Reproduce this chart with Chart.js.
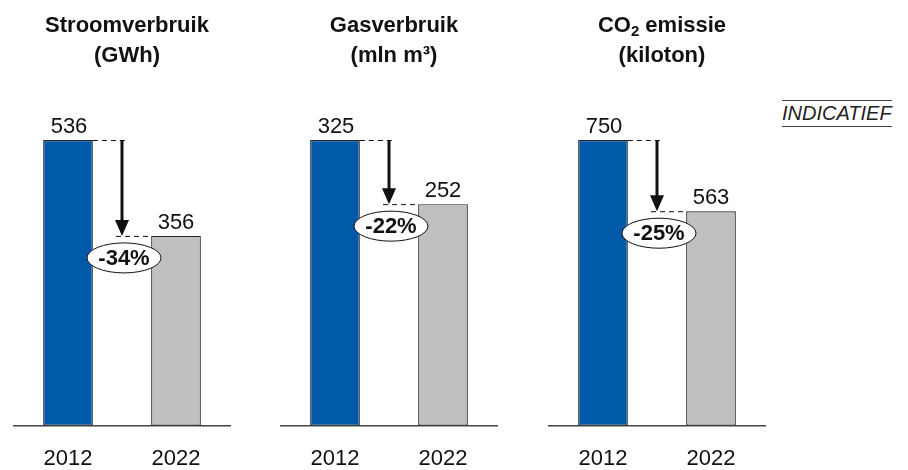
<!DOCTYPE html>
<html>
<head>
<meta charset="utf-8">
<script src="https://cdn.jsdelivr.net/npm/chart.js@4.4.0/dist/chart.umd.min.js"></script>
<style>
    html, body { margin: 0; padding: 0; background: #fff; }
    #wrap { position: relative; width: 908px; height: 470px; overflow: hidden; }
    #wrap canvas { position: absolute; top: 0; }
    #tag {
        position: absolute; left: 782px; top: 100px;
        font: italic 20px 'Liberation Sans', Arial, sans-serif;
        line-height: 25px; color: #222;
        border-top: 1px solid #444; border-bottom: 1px solid #444;
        white-space: nowrap;
    }
</style>
</head>
<body>
<div id="wrap">
    <canvas id="c1" width="244" height="492" style="left:0px"></canvas>
    <canvas id="c2" width="244" height="492" style="left:267px"></canvas>
    <canvas id="c3" width="244" height="492" style="left:535px"></canvas>
    <div id="tag">INDICATIEF</div>
</div>
<script>
const years = ['2012', '2022'];
const stroomValues = [536, 356];   // GWh
const gasValues = [325, 252];      // mln m3
const co2Values = [750, 563];      // kiloton

const FONT = "'Liberation Sans', Arial, sans-serif";
const BLUE = '#005AA9';
const GREY = '#C0C0C0';

// Titles, value labels, dashed guides, arrow and the percentage bubble
const annotatePlugin = {
    id: 'annotate',
    afterDatasetsDraw(chart, args, opts) {
        const ctx = chart.ctx;
        const meta = chart.getDatasetMeta(0);
        const b0 = meta.data[0];
        const b1 = meta.data[1];
        const vals = chart.data.datasets[0].data;
        const ax = (b0.x + b1.x) / 2;

        ctx.save();
        ctx.fillStyle = '#111';
        ctx.font = '22px ' + FONT;
        ctx.textAlign = 'center';
        ctx.textBaseline = 'alphabetic';
        ctx.fillText(String(vals[0]), b0.x + 1, b0.y - 7);
        ctx.fillText(String(vals[1]), b1.x, b1.y - 7);

        // dashed guides
        ctx.strokeStyle = '#111';
        ctx.lineWidth = 1;
        ctx.setLineDash([5, 4]);
        ctx.beginPath();
        ctx.moveTo(b0.x + b0.width / 2, b0.y + 0.5);
        ctx.lineTo(ax + 3, b0.y + 0.5);
        ctx.moveTo(ax - 6, b1.y + 0.5);
        ctx.lineTo(b1.x - b1.width / 2, b1.y + 0.5);
        ctx.stroke();
        ctx.setLineDash([]);

        // arrow
        ctx.lineWidth = 3;
        ctx.beginPath();
        ctx.moveTo(ax, b0.y);
        ctx.lineTo(ax, b1.y - 12);
        ctx.stroke();
        ctx.beginPath();
        ctx.moveTo(ax - 7, b1.y - 16);
        ctx.lineTo(ax + 7, b1.y - 16);
        ctx.lineTo(ax, b1.y);
        ctx.closePath();
        ctx.fill();

        // change bubble
        const pct = Math.round((vals[1] - vals[0]) / vals[0] * 100);
        const ex = ax + 2, ey = b1.y + 22;
        ctx.beginPath();
        ctx.ellipse(ex, ey, 37, 15, 0, 0, Math.PI * 2);
        ctx.fillStyle = '#fff';
        ctx.fill();
        ctx.lineWidth = 1;
        ctx.strokeStyle = '#111';
        ctx.stroke();
        ctx.fillStyle = '#111';
        ctx.font = 'bold 22px ' + FONT;
        ctx.textBaseline = 'middle';
        ctx.fillText(pct + '%', ex, ey + 1);
        ctx.restore();
    },
    afterDraw(chart, args, opts) {
        const ctx = chart.ctx;
        const cx = (chart.chartArea.left + chart.chartArea.right) / 2 + 5;
        ctx.save();
        ctx.fillStyle = '#111';
        ctx.textBaseline = 'alphabetic';
        const lines = opts.lines || [];
        lines.forEach((line, i) => {
            const y = 32 + i * 30;
            if (Array.isArray(line)) {
                // line made of [text, isSubscript] pieces
                let total = 0;
                line.forEach(p => {
                    ctx.font = (p[1] ? 'bold 15px ' : 'bold 22px ') + FONT;
                    total += ctx.measureText(p[0]).width;
                });
                let x = cx - total / 2;
                ctx.textAlign = 'left';
                line.forEach(p => {
                    ctx.font = (p[1] ? 'bold 15px ' : 'bold 22px ') + FONT;
                    ctx.fillText(p[0], x, p[1] ? y + 4 : y);
                    x += ctx.measureText(p[0]).width;
                });
            } else {
                ctx.font = 'bold 22px ' + FONT;
                ctx.textAlign = 'center';
                ctx.fillText(line, cx, y);
            }
        });
        ctx.restore();
    }
};

function makeChart(id, values, titleLines) {
    const ctx = document.getElementById(id).getContext('2d');
    return new Chart(ctx, {
        type: 'bar',
        data: {
            labels: years,
            datasets: [{
                data: values,
                backgroundColor: [BLUE, GREY],
                borderColor: '#222',
                borderWidth: 1.2,
                borderSkipped: false,
                barPercentage: 0.46,
                categoryPercentage: 1
            }]
        },
        options: {
            responsive: false,
            animation: false,
            devicePixelRatio: 1,
            layout: { padding: { left: 14, right: 14, top: 140, bottom: 0 } },
            plugins: {
                legend: { display: false },
                tooltip: { enabled: false },
                annotate: { lines: titleLines }
            },
            scales: {
                x: {
                    grid: { display: false, drawTicks: false },
                    border: { display: true, color: '#444', width: 1.5 },
                    ticks: {
                        padding: 20,
                        color: '#111',
                        font: { size: 22, family: FONT }
                    }
                },
                y: {
                    display: false,
                    min: 0,
                    max: values[0]
                }
            }
        },
        plugins: [annotatePlugin]
    });
}

makeChart('c1', stroomValues, ['Stroomverbruik', '(GWh)']);
makeChart('c2', gasValues, ['Gasverbruik', '(mln m\u00b3)']);
makeChart('c3', co2Values, [[['CO', false], ['2', true], [' emissie', false]], '(kiloton)']);
</script>
</body>
</html>
